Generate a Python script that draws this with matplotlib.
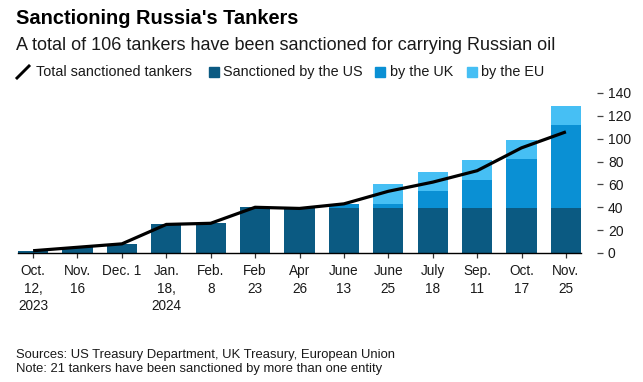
import matplotlib
matplotlib.use("Agg")
import matplotlib.pyplot as plt
from matplotlib.lines import Line2D
from matplotlib.patches import Rectangle
import numpy as np

plt.rcParams['font.family'] = ['Liberation Sans', 'DejaVu Sans']

# ---- data ----
dates = ["Oct.\n12,\n2023", "Nov.\n16", "Dec. 1", "Jan.\n18,\n2024", "Feb.\n8",
         "Feb\n23", "Apr\n26", "June\n13", "June\n25", "July\n18", "Sep.\n11",
         "Oct.\n17", "Nov.\n25"]
us = [2, 5, 8, 25, 26, 40, 39, 39, 39, 39, 39, 39, 39]
uk = [0, 0, 0, 0, 0, 0, 0, 4, 4, 15, 25, 43, 73]
eu = [0, 0, 0, 0, 0, 0, 0, 0, 17, 17, 17, 17, 17]
total = [2, 5, 8, 25, 26, 40, 39, 43, 54, 62, 72, 92, 106]
yticks = [0, 20, 40, 60, 80, 100, 120, 140]

c_us = "#0b5a82"
c_uk = "#0a90d4"
c_eu = "#46bff4"
txt = "#1a1a1a"

W, H = 643, 382
fig = plt.figure(figsize=(W / 100, H / 100), dpi=100)
ax = fig.add_axes([18 / W, 1 - 253 / H, (581 - 18) / W, (253 - 93) / H])

x = np.arange(len(dates))
bw = 0.68
us_a, uk_a, eu_a = np.array(us), np.array(uk), np.array(eu)
ax.bar(x, us_a, bw, color=c_us, zorder=2)
ax.bar(x, uk_a, bw, bottom=us_a, color=c_uk, zorder=2)
ax.bar(x, eu_a, bw, bottom=us_a + uk_a, color=c_eu, zorder=2)
ax.plot(x, total, color="black", lw=2.3, zorder=3, solid_capstyle="butt",
        solid_joinstyle="miter", clip_on=False)

ax.set_xlim(-0.34, 12.34)
ax.set_ylim(0, 140)

for s in ["top", "left"]:
    ax.spines[s].set_visible(False)
ax.spines["bottom"].set_color("black")
ax.spines["bottom"].set_linewidth(1.0)
ax.spines["right"].set_position(("outward", 16 * 0.72))
ax.spines["right"].set_color("none")

ax.yaxis.tick_right()
ax.set_yticks(yticks)
ax.set_yticklabels([str(v) for v in yticks])
ax.tick_params(axis="y", direction="out", length=4.3, width=0.9, color="#444",
               pad=3.6, labelsize=10, labelcolor=txt)

ax.set_xticks(x)
ax.set_xticklabels(dates, linespacing=1.3)
ax.tick_params(axis="x", direction="out", length=3.6, width=0.9, color="#333",
               pad=4.5, labelsize=9.8, labelcolor=txt)

# ---- titles ----
fig.text(16 / W, 1 - 18 / H, "Sanctioning Russia's Tankers", fontsize=14.4,
         fontweight="bold", color="black", va="center", ha="left")
fig.text(16 / W, 1 - 46 / H,
         "A total of 106 tankers have been sanctioned for carrying Russian oil",
         fontsize=13, color=txt, va="center", ha="left")

# ---- legend ----
ly = 1 - 72 / H
fig.add_artist(Line2D([17 / W, 29 / W], [1 - 78 / H, 1 - 66 / H], color="black",
                      lw=2.1, transform=fig.transFigure))
fig.text(36 / W, ly, "Total sanctioned tankers", fontsize=10.4, color=txt,
         va="center", ha="left")
items = [(209, 223, c_us, "Sanctioned by the US"),
         (375, 390, c_uk, "by the UK"),
         (467, 481, c_eu, "by the EU")]
for sx, tx, col, lab in items:
    fig.add_artist(Rectangle((sx / W, 1 - 77 / H), 9.5 / W, 9.5 / H,
                             color=col, transform=fig.transFigure))
    fig.text(tx / W, ly, lab, fontsize=10.4, color=txt, va="center", ha="left")

# ---- footer ----
fig.text(16 / W, 1 - 355 / H,
         "Sources: US Treasury Department, UK Treasury, European Union",
         fontsize=9.35, color=txt, va="center", ha="left")
fig.text(16 / W, 1 - 369 / H,
         "Note: 21 tankers have been sanctioned by more than one entity",
         fontsize=9.35, color=txt, va="center", ha="left")

fig.savefig("out.png", dpi=100)
